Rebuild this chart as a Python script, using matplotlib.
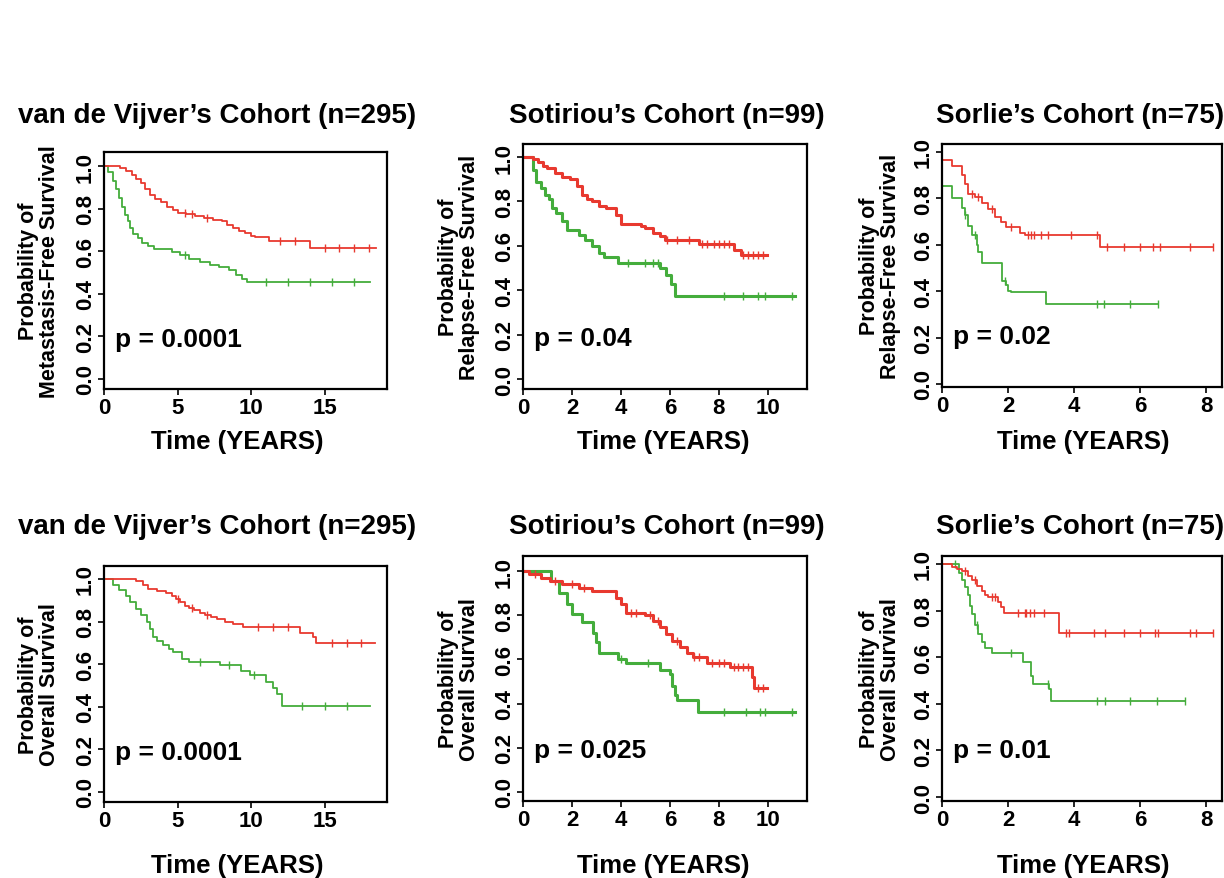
import numpy as np
import matplotlib
matplotlib.use("Agg")
import matplotlib.pyplot as plt

plt.rcParams['font.family'] = ['Liberation Sans', 'DejaVu Sans']
plt.rcParams['font.weight'] = 'bold'

RED = '#e8392f'
GREEN = '#44ad3c'

# ---- data ----
titles = ["van de Vijver\u2019s Cohort (n=295)", "Sotiriou\u2019s Cohort (n=99)", "Sorlie\u2019s Cohort (n=75)",
          "van de Vijver\u2019s Cohort (n=295)", "Sotiriou\u2019s Cohort (n=99)", "Sorlie\u2019s Cohort (n=75)"]
ylabels = ["Probability of\nMetastasis-Free Survival", "Probability of\nRelapse-Free Survival",
           "Probability of\nRelapse-Free Survival", "Probability of\nOverall Survival",
           "Probability of\nOverall Survival", "Probability of\nOverall Survival"]
pvalues = ["p = 0.0001", "p = 0.04", "p = 0.02", "p = 0.0001", "p = 0.025", "p = 0.01"]
xticks = [[0, 5, 10, 15], [0, 2, 4, 6, 8, 10], [0, 2, 4, 6, 8],
          [0, 5, 10, 15], [0, 2, 4, 6, 8, 10], [0, 2, 4, 6, 8]]

# panel 1: van de Vijver, metastasis-free
p1_red_t = [0, 1.1, 1.5, 1.9, 2.2, 2.5, 2.8, 3.1, 3.5, 3.9, 4.3, 4.7, 5.0, 5.6, 6.2, 6.8, 7.4, 8.0, 8.4, 8.8, 9.2, 9.6, 10.0, 10.3, 11.2, 14.0]
p1_red_s = [1.0, 0.99, 0.975, 0.96, 0.94, 0.92, 0.89, 0.865, 0.845, 0.83, 0.81, 0.795, 0.78, 0.775, 0.765, 0.755, 0.745, 0.74, 0.725, 0.71, 0.695, 0.685, 0.67, 0.665, 0.65, 0.615]
p1_red_end = 18.5
p1_red_c = [5.5, 6.0, 7.0, 12.0, 13.0, 15.0, 16.0, 17.0, 18.0]
p1_green_t = [0, 0.3, 0.6, 0.8, 1.0, 1.2, 1.4, 1.6, 1.8, 2.0, 2.3, 2.6, 3.0, 3.4, 4.6, 5.2, 5.8, 6.5, 7.2, 7.8, 8.5, 9.0, 9.4, 9.7]
p1_green_s = [1.0, 0.97, 0.93, 0.89, 0.85, 0.81, 0.77, 0.74, 0.71, 0.68, 0.66, 0.64, 0.625, 0.61, 0.595, 0.58, 0.565, 0.55, 0.535, 0.525, 0.51, 0.49, 0.47, 0.455]
p1_green_end = 18.1
p1_green_c = [5.5, 11.0, 12.5, 14.0, 15.5, 17.0]

# panel 2: Sotiriou, relapse-free
p2_red_t = [0, 0.4, 0.6, 0.8, 1.0, 1.3, 1.6, 1.9, 2.2, 2.4, 2.6, 2.8, 3.1, 3.4, 3.8, 4.0, 4.8, 5.0, 5.3, 5.6, 5.8, 7.2, 8.6, 8.9]
p2_red_s = [1.0, 0.99, 0.98, 0.96, 0.95, 0.93, 0.91, 0.9, 0.87, 0.83, 0.81, 0.8, 0.78, 0.77, 0.74, 0.70, 0.69, 0.68, 0.66, 0.645, 0.625, 0.61, 0.58, 0.56]
p2_red_end = 9.95
p2_red_c = [5.9, 6.3, 6.8, 7.3, 7.5, 7.8, 8.0, 8.2, 8.4, 9.0, 9.2, 9.4, 9.6, 9.8]
p2_green_t = [0, 0.4, 0.55, 0.75, 0.9, 1.05, 1.2, 1.35, 1.6, 1.8, 2.3, 2.55, 2.8, 3.1, 3.3, 3.9, 5.6, 5.85, 6.05, 6.2]
p2_green_s = [1.0, 0.94, 0.89, 0.86, 0.83, 0.81, 0.77, 0.75, 0.71, 0.67, 0.65, 0.625, 0.6, 0.57, 0.55, 0.525, 0.50, 0.47, 0.43, 0.375]
p2_green_end = 11.1
p2_green_c = [4.3, 5.0, 5.3, 5.5, 8.2, 9.0, 9.6, 9.9, 11.0]

# panel 3: Sorlie, relapse-free
p3_red_t = [0, 0.3, 0.6, 0.7, 0.8, 1.0, 1.2, 1.4, 1.6, 1.8, 1.95, 2.35, 2.5, 4.8]
p3_red_s = [0.965, 0.94, 0.9, 0.86, 0.82, 0.805, 0.78, 0.755, 0.72, 0.70, 0.675, 0.65, 0.64, 0.59]
p3_red_end = 8.2
p3_red_c = [0.9, 1.1, 1.5, 2.1, 2.6, 2.7, 2.8, 3.0, 3.2, 3.9, 4.7, 5.0, 5.5, 6.0, 6.4, 6.6, 7.5, 8.2]
p3_green_t = [0, 0.3, 0.6, 0.7, 0.8, 0.9, 1.05, 1.1, 1.2, 1.83, 1.93, 2.0, 2.1, 3.15]
p3_green_s = [0.855, 0.8, 0.76, 0.73, 0.68, 0.64, 0.6, 0.57, 0.52, 0.445, 0.425, 0.40, 0.395, 0.345]
p3_green_end = 6.55
p3_green_c = [0.7, 1.0, 1.9, 4.7, 4.9, 5.7, 6.55]

# panel 4: van de Vijver, overall
p4_red_t = [0, 2.2, 2.65, 3.0, 3.6, 4.2, 4.6, 4.9, 5.2, 5.5, 5.8, 6.1, 6.5, 6.9, 7.3, 7.7, 8.2, 8.8, 9.45, 13.3, 14.2, 14.4]
p4_red_s = [1.0, 0.99, 0.97, 0.955, 0.945, 0.935, 0.92, 0.905, 0.89, 0.875, 0.865, 0.855, 0.84, 0.83, 0.82, 0.81, 0.8, 0.79, 0.775, 0.745, 0.73, 0.70]
p4_red_end = 18.4
p4_red_c = [5.0, 6.0, 7.0, 10.5, 11.5, 12.5, 15.5, 16.5, 17.5]
p4_green_t = [0, 0.6, 1.0, 1.5, 1.8, 2.2, 2.5, 2.9, 3.1, 3.3, 3.6, 4.0, 4.4, 4.7, 5.3, 5.8, 7.9, 9.3, 9.9, 11.0, 11.5, 11.8, 12.1]
p4_green_s = [1.0, 0.97, 0.95, 0.92, 0.89, 0.86, 0.83, 0.80, 0.765, 0.73, 0.71, 0.69, 0.67, 0.655, 0.625, 0.61, 0.595, 0.57, 0.55, 0.515, 0.49, 0.46, 0.405]
p4_green_end = 18.1
p4_green_c = [6.5, 8.5, 10.2, 13.5, 15.0, 16.5]

# panel 5: Sotiriou, overall
p5_red_t = [0, 0.25, 0.75, 1.1, 1.6, 2.3, 2.8, 3.8, 4.0, 4.2, 5.0, 5.3, 5.6, 5.85, 6.1, 6.4, 6.7, 6.95, 7.5, 8.45, 9.35, 9.45]
p5_red_s = [1.0, 0.985, 0.97, 0.955, 0.94, 0.925, 0.91, 0.88, 0.85, 0.81, 0.80, 0.775, 0.745, 0.715, 0.685, 0.655, 0.63, 0.61, 0.585, 0.565, 0.52, 0.47]
p5_red_end = 9.95
p5_red_c = [0.5, 1.3, 2.0, 2.5, 4.4, 4.6, 5.2, 5.5, 6.3, 7.0, 7.2, 7.7, 8.0, 8.2, 8.6, 8.8, 9.0, 9.2, 9.6, 9.8]
p5_green_t = [0, 1.15, 1.47, 1.8, 2.0, 2.4, 2.85, 3.0, 3.1, 3.9, 4.2, 5.6, 6.0, 6.1, 6.2, 6.3, 7.15]
p5_green_s = [1.0, 0.955, 0.90, 0.85, 0.805, 0.77, 0.72, 0.68, 0.63, 0.60, 0.585, 0.55, 0.535, 0.48, 0.44, 0.415, 0.36]
p5_green_end = 11.1
p5_green_c = [4.0, 5.1, 8.2, 9.1, 9.7, 9.9, 11.0]

# panel 6: Sorlie, overall
p6_red_t = [0, 0.3, 0.45, 0.6, 0.8, 0.9, 1.05, 1.2, 1.3, 1.4, 1.7, 1.78, 1.88, 3.55]
p6_red_s = [1.0, 0.985, 0.98, 0.97, 0.95, 0.93, 0.905, 0.885, 0.865, 0.86, 0.835, 0.815, 0.79, 0.705]
p6_red_end = 8.2
p6_red_c = [0.7, 1.0, 1.5, 1.6, 2.3, 2.5, 2.55, 2.65, 2.8, 3.1, 3.75, 3.85, 4.6, 4.95, 5.5, 6.0, 6.45, 6.55, 7.5, 7.7, 8.2]
p6_green_t = [0, 0.5, 0.6, 0.7, 0.8, 0.86, 0.9, 1.0, 1.1, 1.2, 1.3, 1.5, 2.45, 2.7, 2.75, 3.25, 3.3]
p6_green_s = [1.0, 0.96, 0.93, 0.9, 0.865, 0.82, 0.785, 0.74, 0.70, 0.665, 0.64, 0.62, 0.58, 0.52, 0.485, 0.465, 0.41]
p6_green_end = 7.35
p6_green_c = [0.4, 1.05, 2.1, 3.2, 4.7, 4.95, 5.7, 6.5, 7.35]

red_curves = [(p1_red_t, p1_red_s, p1_red_end, p1_red_c), (p2_red_t, p2_red_s, p2_red_end, p2_red_c),
              (p3_red_t, p3_red_s, p3_red_end, p3_red_c), (p4_red_t, p4_red_s, p4_red_end, p4_red_c),
              (p5_red_t, p5_red_s, p5_red_end, p5_red_c), (p6_red_t, p6_red_s, p6_red_end, p6_red_c)]
green_curves = [(p1_green_t, p1_green_s, p1_green_end, p1_green_c), (p2_green_t, p2_green_s, p2_green_end, p2_green_c),
                (p3_green_t, p3_green_s, p3_green_end, p3_green_c), (p4_green_t, p4_green_s, p4_green_end, p4_green_c),
                (p5_green_t, p5_green_s, p5_green_end, p5_green_c), (p6_green_t, p6_green_s, p6_green_end, p6_green_c)]

# ---- layout (pixels of the 1224x879 canvas) ----
W, H = 1224, 879
boxes = [(104, 153, 387, 390), (523, 145, 807, 390), (942, 145, 1222, 388),
         (104, 567, 387, 803), (523, 557, 807, 802), (942, 557, 1222, 802)]
ylims = [(-0.047, 1.066), (-0.045, 1.059), (-0.013, 1.034),
         (-0.047, 1.061), (-0.041, 1.068), (-0.017, 1.034)]
xmax = [19.25, 11.6, 8.48, 19.25, 11.6, 8.48]
lws = [1.3, 2.2, 1.3, 1.3, 2.2, 1.3]
title_x = [217, 667, 1080, 217, 667, 1080]
title_y = [116, 116, 116, 527, 527, 527]
xlab_x = [237, 663, 1083, 237, 663, 1083]
xlab_y = [442, 442, 442, 866, 866, 866]
ylab_x = [39, 459, 880, 39, 459, 880]


def km(ax, t, s, end, cens, color, lw):
    t = np.asarray(t, float)
    s = np.asarray(s, float)
    ax.step(np.append(t, end), np.append(s, s[-1]), where='post', color=color, lw=lw)
    idx = np.searchsorted(t, cens, side='right') - 1
    ax.plot(cens, s[idx], ls='none', marker='|', ms=6, mew=1.0, color=color)


fig = plt.figure(figsize=(W / 100, H / 100), dpi=100)

for i in range(6):
    x0, y0, x1, y1 = boxes[i]
    ax = fig.add_axes([x0 / W, 1 - y1 / H, (x1 - x0) / W, (y1 - y0) / H])
    km(ax, *green_curves[i], GREEN, lws[i])
    km(ax, *red_curves[i], RED, lws[i])
    ax.set_xlim(0, xmax[i])
    ax.set_ylim(*ylims[i])
    ax.set_xticks(xticks[i])
    ax.set_yticks([0, 0.2, 0.4, 0.6, 0.8, 1.0])
    ax.set_yticklabels(["0.0", "0.2", "0.4", "0.6", "0.8", "1.0"], rotation=90, va='center')
    ax.tick_params(direction='out', length=4, width=1.2, labelsize=16, pad=2)
    for sp in ax.spines.values():
        sp.set_linewidth(1.6)
    ax.text(0.04, 0.21, pvalues[i], transform=ax.transAxes, fontsize=19, fontweight='bold',
            va='center', ha='left')
    fig.text(title_x[i] / W, 1 - title_y[i] / H, titles[i], fontsize=20, fontweight='bold',
             ha='center', va='center')
    fig.text(xlab_x[i] / W, 1 - xlab_y[i] / H, "Time (YEARS)", fontsize=18.5, fontweight='bold',
             ha='center', va='center')
    fig.text(ylab_x[i] / W, 1 - (y0 + y1) / 2 / H, ylabels[i], fontsize=15.5, fontweight='bold',
             rotation=90, ha='center', va='center', multialignment='center', linespacing=1.0)

fig.savefig("out.png", dpi=100)
